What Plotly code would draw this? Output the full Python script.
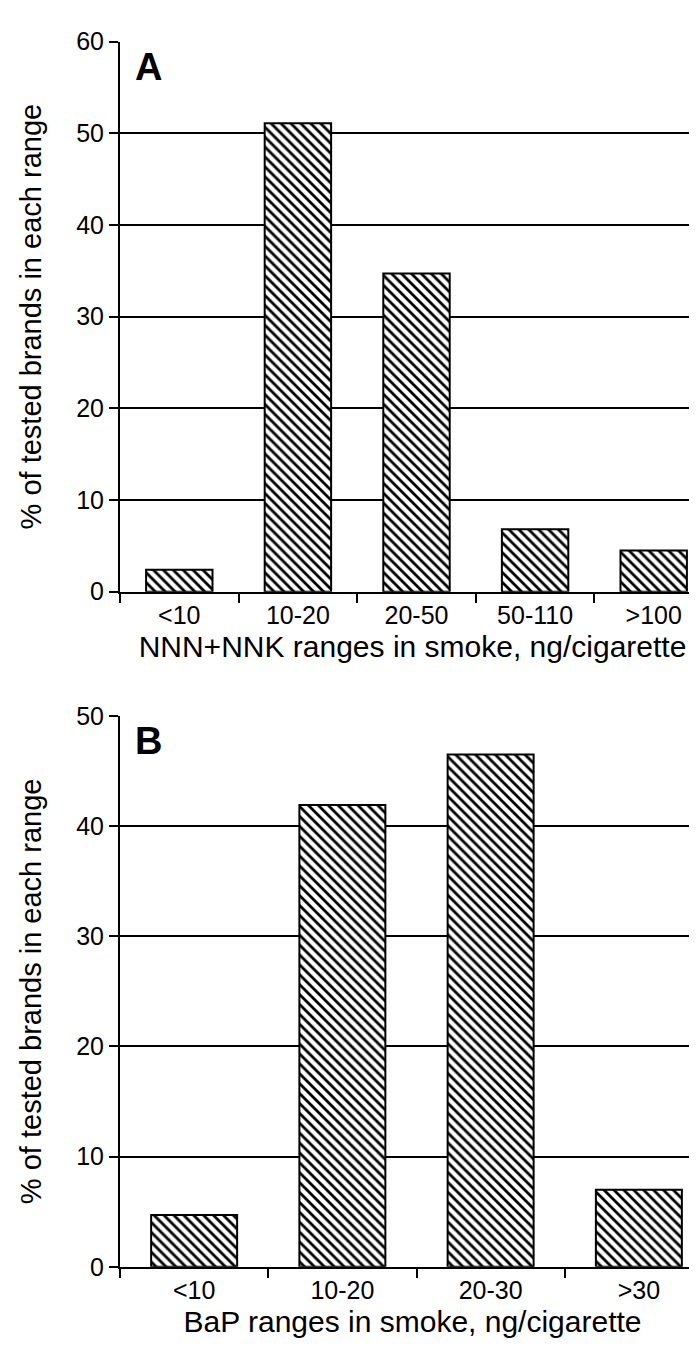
import plotly.graph_objects as go
from plotly.subplots import make_subplots

# Panel A data
cats_a = ["<10", "10-20", "20-50", "50-110", ">100"]
vals_a = [2.4, 51.1, 34.7, 6.8, 4.5]
# Panel B data
cats_b = ["<10", "10-20", "20-30", ">30"]
vals_b = [4.7, 41.9, 46.5, 7.0]

title_y = "% of tested brands in each range"
title_xa = "NNN+NNK ranges in smoke, ng/cigarette"
title_xb = "BaP ranges in smoke, ng/cigarette"

W, H = 697, 1357
FONT = "Liberation Sans, Arial, sans-serif"

fig = make_subplots(rows=2, cols=1, vertical_spacing=0.1)

pattern = dict(shape="\\", fgcolor="black", bgcolor="white", size=7, solidity=0.4, fillmode="replace")

fig.add_trace(go.Bar(x=cats_a, y=vals_a, width=0.56,
                     marker=dict(color="white", line=dict(color="black", width=2), pattern=pattern),
                     showlegend=False), row=1, col=1)
fig.add_trace(go.Bar(x=cats_b, y=vals_b, width=0.58,
                     marker=dict(color="white", line=dict(color="black", width=2), pattern=pattern),
                     showlegend=False), row=2, col=1)

left = 112
dom_a = [1 - 581.7 / H, 1 - 20 / H]
dom_b = [1 - 1271 / H, 1 - 708.5 / H]

# x-axis spans ~593px but the picture is cropped at the right edge
xa_span = 593
xa_vis = (W - left)
ra = [-0.5, -0.5 + 5 * xa_vis / xa_span]
rb = [-0.5, -0.5 + 4 * xa_vis / xa_span]

common_x = dict(type="category", showline=True, linecolor="black", linewidth=2,
                ticks="outside", tickson="boundaries", ticklen=9, tickwidth=2, tickcolor="black",
                showgrid=False, tickfont=dict(family=FONT, size=25, color="black"),
                title_font=dict(family=FONT, size=30, color="black"), title_standoff=8)
common_y = dict(showline=True, linecolor="black", linewidth=2,
                ticks="outside", ticklen=9, tickwidth=2, tickcolor="black",
                showgrid=True, gridcolor="black", gridwidth=2, dtick=10, zeroline=False,
                tickfont=dict(family=FONT, size=25, color="black"),
                title_font=dict(family=FONT, size=29, color="black"), title_standoff=26)

fig.update_xaxes(range=ra, domain=[0, 1], title_text=title_xa, **common_x, row=1, col=1)
fig.update_xaxes(range=rb, domain=[0, 1], title_text=title_xb, **common_x, row=2, col=1)
fig.update_yaxes(range=[0, 60], domain=dom_a, title_text=title_y, **common_y, row=1, col=1)
fig.update_yaxes(range=[0, 50], domain=dom_b, title_text=title_y, **common_y, row=2, col=1)

fig.add_annotation(text="<b>A</b>", xref="paper", yref="paper", x=0.022, y=1 - 46 / H,
                   showarrow=False, xanchor="left", yanchor="middle",
                   font=dict(family=FONT, size=38, color="black"))
fig.add_annotation(text="<b>B</b>", xref="paper", yref="paper", x=0.022, y=1 - 734 / H,
                   showarrow=False, xanchor="left", yanchor="middle",
                   font=dict(family=FONT, size=38, color="black"))

fig.update_layout(width=W, height=H, margin=dict(l=left, r=0, t=0, b=0),
                  plot_bgcolor="white", paper_bgcolor="white", bargap=0.4,
                  font=dict(family=FONT, color="black"))

fig.write_html("out.html")
